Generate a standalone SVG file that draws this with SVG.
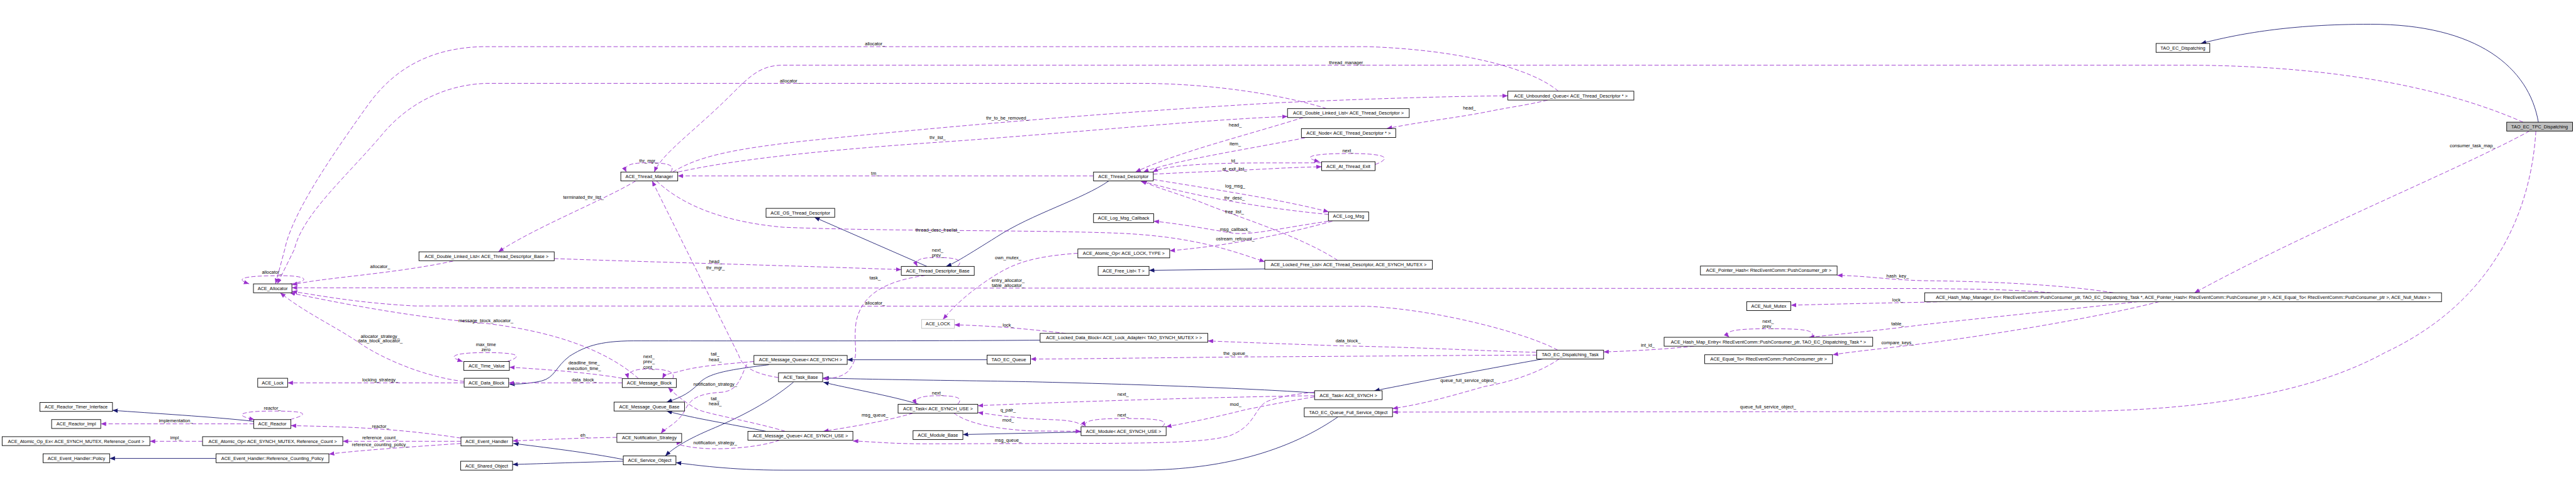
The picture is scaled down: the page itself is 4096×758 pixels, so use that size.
<svg xmlns="http://www.w3.org/2000/svg" width="4096" height="758" viewBox="0 0 4096 758">
<defs>
<style>
.n rect{fill:#fff;stroke:#000;stroke-width:1.6}
.n text,.l{font-family:'Liberation Sans',Arial,sans-serif;font-size:13px;text-anchor:middle;fill:#000}
.e{fill:none;stroke:#9a32cd;stroke-width:1.6;stroke-dasharray:12,6;marker-end:url(#ap)}
.i{fill:none;stroke:#191970;stroke-width:1.6;marker-end:url(#an)}
</style>
<marker id="ap" markerUnits="userSpaceOnUse" markerWidth="16" markerHeight="12" refX="15" refY="6" orient="auto" viewBox="0 0 16 12"><path d="M0,0 L15,6 L0,12 z" fill="#9a32cd"/></marker>
<marker id="an" markerUnits="userSpaceOnUse" markerWidth="16" markerHeight="12" refX="15" refY="6" orient="auto" viewBox="0 0 16 12"><path d="M0,0 L15,6 L0,12 z" fill="#191970"/></marker>
</defs>
<rect width="4096" height="758" fill="#fff"/>
<g transform="scale(0.566)">
<g id="connectors">
<path class="i" d="M7131,343 C7105,190 6960,68 6660,68 C6430,68 6290,95 6183,122"/>
<path class="i" d="M2581,1135 C2500,1110 2380,1090 2313,1073"/>
<path class="i" d="M3693,1103 C3500,1090 3200,1079 2900,1072 C2700,1068 2450,1066 2313,1061"/>
<path class="i" d="M2160,1024 C2030,1040 1985,1050 1960,1080 C1930,1110 1900,1120 1873,1129"/>
<path class="i" d="M2773,1010 L2380,1010"/>
<path class="i" d="M2152,1211 C2050,1190 1950,1175 1873,1154"/>
<path class="i" d="M2229,1073 C2160,1130 2080,1170 2010,1200 C1950,1225 1900,1250 1869,1280"/>
<path class="i" d="M3758,1171 C3600,1280 3400,1320 3200,1320 L2200,1320 C2050,1320 1950,1305 1899,1299"/>
<path class="i" d="M1751,1290 C1650,1270 1520,1255 1442,1245"/>
<path class="i" d="M1751,1295 C1650,1297 1520,1302 1440,1304"/>
<path class="i" d="M713,1183 C600,1170 420,1160 316,1152"/>
<path class="i" d="M607,1287 L308,1287"/>
<path class="i" d="M2922,955 C2600,958 2000,957 1780,957 C1680,957 1640,975 1600,1000 C1560,1030 1560,1060 1520,1070 C1480,1078 1460,1078 1431,1079"/>
<path class="i" d="M2604,748 L2288,610"/>
<path class="i" d="M3115,508 C3040,560 2900,600 2800,665 C2720,715 2680,740 2658,748"/>
<path class="i" d="M3553,755 L3228,759"/>
<path class="i" d="M4334,1008 C4150,1040 3950,1080 3861,1097"/>
<path class="i" d="M3037,1213 L2705,1220"/>

<path class="e" d="M7088,343 C6900,260 6600,185 6150,183 L2200,183 C2140,183 2110,210 2060,260 C1950,370 1860,430 1838,483"/>
<text class="l" x="3785" y="180">thread_manager_</text>
<path class="e" d="M1884,483 C1900,462 1870,457 1820,457 C1770,457 1750,465 1760,483"/>
<text class="l" x="1822" y="455">thr_mgr_</text>
<path class="e" d="M2187,1060 C2120,1050 2085,1030 2075,997 L1832,508"/>
<text class="l" x="2010" y="756">thr_mgr_</text>
<path class="e" d="M3072,494 L1904,494"/>
<text class="l" x="2458" y="491">tm_</text>
<path class="e" d="M1905,483 C2100,440 2400,415 2700,395 C3100,365 3400,335 3617,327"/>
<text class="l" x="2634" y="391">thr_list_</text>
<path class="e" d="M1890,483 C1960,440 2050,420 2250,397 C2700,350 3200,310 3600,288 C3900,275 4100,270 4236,269"/>
<text class="l" x="2830" y="336">thr_to_be_removed_</text>
<path class="e" d="M1786,508 C1700,560 1500,640 1400,707"/>
<text class="l" x="1639" y="558">terminated_thr_list_</text>
<path class="e" d="M1844,508 C1900,560 2000,620 2200,638 C2500,650 2900,645 3150,655 C3350,665 3450,700 3553,735"/>
<text class="l" x="2634" y="650">thread_desc_freelist_</text>
<path class="e" d="M1273,733 C1100,770 900,780 820,800"/>
<text class="l" x="1068" y="752">allocator_</text>
<path class="e" d="M815,797 C870,790 870,774 790,774 C700,774 650,780 700,797"/>
<text class="l" x="764" y="769">allocator_</text>
<path class="e" d="M4378,256 C4300,190 4100,140 3843,131 L1355,131 C1200,135 1100,200 1030,300 C930,440 820,600 800,700 L774,797"/>
<text class="l" x="2458" y="128">allocator_</text>
<path class="e" d="M3727,305 C3600,265 3400,234 3200,234 L1366,234 C1250,238 1150,290 1080,370 C980,490 850,600 827,700 L779,797"/>
<text class="l" x="2219" y="232">allocator_</text>
<path class="e" d="M5762,822 C5650,812 5500,810 5300,810 L820,808"/>
<text class="l" x="2832" y="791">entry_allocator_</text>
<text class="l" x="2832" y="805">table_allocator_</text>
<path class="e" d="M4376,983 C4300,940 4050,870 3842,860 L1166,859 C1000,850 900,830 820,818"/>
<text class="l" x="2458" y="856">allocator_</text>
<path class="e" d="M1794,1063 C1700,980 1550,930 1365,908 C1150,890 950,850 814,822"/>
<text class="l" x="1365" y="904">message_block_allocator_</text>
<path class="e" d="M1304,1071 C1200,1060 1080,1010 1013,965 C940,915 860,880 787,822"/>
<text class="l" x="1068" y="948">allocator_strategy_</text>
<text class="l" x="1068" y="962">data_block_allocator_</text>
<path class="e" d="M1748,1075 L1429,1075"/>
<text class="l" x="1641" y="1070">data_block_</text>
<path class="e" d="M1748,1062 C1650,1045 1500,1035 1431,1031"/>
<text class="l" x="1641" y="1023">deadline_time_</text>
<text class="l" x="1641" y="1038">execution_time_</text>
<path class="e" d="M1425,1015 C1470,1000 1460,990 1365,990 C1280,990 1250,1000 1300,1015"/>
<text class="l" x="1365" y="972">max_time</text>
<text class="l" x="1365" y="986">zero</text>
<path class="e" d="M1304,1075 L808,1075"/>
<text class="l" x="1068" y="1070">locking_strategy_</text>
<path class="e" d="M1890,1063 C1900,1040 1860,1036 1820,1036 C1780,1036 1760,1045 1765,1063"/>
<text class="l" x="1823" y="1006">next_</text>
<text class="l" x="1823" y="1020">prev_</text>
<text class="l" x="1823" y="1035">cont_</text>
<path class="e" d="M2118,1015 C2000,1025 1950,1030 1900,1045 C1870,1050 1865,1055 1861,1063"/>
<text class="l" x="2009" y="999">tail_</text>
<text class="l" x="2009" y="1015">head_</text>
<path class="e" d="M2098,1023 C2080,1060 2075,1095 2030,1101 C1960,1105 1940,1120 1925,1150 C1905,1190 1870,1200 1857,1217"/>
<text class="l" x="2009" y="1083">notification_strategy_</text>
<path class="e" d="M2206,1211 C2120,1185 2000,1165 1960,1150 C1925,1130 1900,1110 1877,1088"/>
<text class="l" x="2009" y="1123">tail_</text>
<text class="l" x="2009" y="1138">head_</text>
<path class="e" d="M2190,1236 C2120,1260 2000,1265 1940,1255 C1910,1250 1890,1245 1915,1242"/>
<text class="l" x="2009" y="1248">notification_strategy_</text>
<path class="e" d="M2565,1160 C2480,1185 2380,1200 2313,1211"/>
<text class="l" x="2458" y="1170">msg_queue_</text>
<path class="e" d="M2690,1135 C2710,1115 2680,1111 2635,1111 C2590,1111 2565,1118 2575,1135"/>
<text class="l" x="2634" y="1107">next_</text>
<path class="e" d="M3693,1111 C3400,1115 3000,1128 2747,1139"/>
<text class="l" x="3155" y="1111">next_</text>
<path class="e" d="M3693,1114 C3600,1130 3550,1140 3500,1150 C3420,1170 3350,1185 3276,1198"/>
<text class="l" x="3471" y="1140">mod_</text>
<path class="e" d="M3265,1198 C3290,1178 3240,1175 3155,1175 C3070,1175 3040,1182 3050,1198"/>
<text class="l" x="3155" y="1170">next_</text>
<path class="e" d="M3045,1198 C3030,1185 3010,1180 2950,1178 C2850,1175 2800,1165 2747,1158"/>
<text class="l" x="2832" y="1155">q_pair_</text>
<path class="e" d="M2680,1160 C2720,1190 2800,1205 2900,1210 L3037,1211"/>
<text class="l" x="2832" y="1184">mod_</text>
<path class="e" d="M3693,1101 C3600,1110 3560,1125 3551,1132 C3520,1160 3520,1200 3450,1225 C3383,1240 3300,1245 3000,1245 L2600,1246 C2500,1246 2450,1240 2396,1238"/>
<text class="l" x="2832" y="1240">msg_queue_</text>
<path class="e" d="M4380,1008 C4320,1050 4230,1075 4171,1085 C4100,1105 4000,1135 3912,1147"/>
<text class="l" x="4125" y="1072">queue_full_service_object_</text>
<path class="e" d="M7124,368 C7110,600 7000,850 6700,990 C6500,1100 6200,1155 5800,1155 L3912,1157"/>
<text class="l" x="4967" y="1147">queue_full_service_object_</text>
<path class="e" d="M7106,368 C6900,480 6500,640 6165,822"/>
<text class="l" x="6946" y="414">consumer_task_map_</text>
<path class="e" d="M5937,822 C5800,800 5600,790 5400,788 C5300,785 5250,775 5161,773"/>
<text class="l" x="5331" y="779">hash_key_</text>
<path class="e" d="M5460,847 C5400,849 5200,852 5031,857"/>
<text class="l" x="5331" y="847">lock_</text>
<path class="e" d="M6007,847 C5800,870 5500,900 5400,912 C5300,925 5200,935 5082,947"/>
<text class="l" x="5331" y="913">table_</text>
<path class="e" d="M6066,847 C5900,890 5600,940 5400,965 C5300,978 5220,985 5149,996"/>
<text class="l" x="5331" y="967">compare_keys_</text>
<path class="e" d="M4759,972 C4680,980 4600,985 4505,988"/>
<text class="l" x="4629" y="974">int_id_</text>
<path class="e" d="M5088,947 C5105,925 5060,923 4965,923 C4870,923 4840,930 4858,947"/>
<text class="l" x="4967" y="906">next_</text>
<text class="l" x="4967" y="920">prev_</text>
<path class="e" d="M4315,989 C4200,987 4000,975 3765,971 C3600,965 3450,960 3393,957"/>
<text class="l" x="3787" y="962">data_block_</text>
<path class="e" d="M4317,997 C4150,997 3900,1000 3500,1002 C3200,1005 3000,1008 2895,1008"/>
<text class="l" x="3471" y="996">the_queue_</text>
<path class="e" d="M2994,936 C2900,925 2800,915 2681,912"/>
<text class="l" x="2832" y="917">lock_</text>
<path class="e" d="M3028,711 C2900,720 2850,740 2800,770 C2720,820 2680,860 2649,897"/>
<text class="l" x="2832" y="728">own_mutex_</text>
<path class="e" d="M2690,748 C2710,728 2680,723 2630,723 C2585,723 2568,730 2577,748"/>
<text class="l" x="2634" y="706">next_</text>
<text class="l" x="2634" y="720">prev_</text>
<path class="e" d="M1557,726 C1800,735 2200,745 2532,757"/>
<text class="l" x="2010" y="738">head_</text>
<path class="e" d="M2600,773 C2480,790 2420,830 2405,904 C2395,980 2420,1000 2380,1045 C2360,1060 2340,1062 2311,1063"/>
<text class="l" x="2458" y="785">task_</text>
<path class="e" d="M4348,281 C4290,295 4248,300 4192,311 C4100,330 4000,340 3896,361"/>
<text class="l" x="4128" y="307">head_</text>
<path class="e" d="M3661,330 C3500,380 3300,430 3190,483"/>
<text class="l" x="3470" y="356">head_</text>
<path class="e" d="M3666,387 C3500,420 3300,450 3212,483"/>
<text class="l" x="3470" y="408">item_</text>
<path class="e" d="M3713,457 C3600,458 3500,456 3400,460 C3300,465 3260,472 3238,483"/>
<text class="l" x="3468" y="455">td_</text>
<path class="e" d="M3240,489 C3350,483 3500,478 3600,472 C3650,470 3680,469 3713,468"/>
<text class="l" x="3468" y="478">at_exit_list_</text>
<path class="e" d="M3863,462 C3920,440 3880,431 3790,431 C3690,431 3650,440 3707,454"/>
<text class="l" x="3787" y="427">next_</text>
<path class="e" d="M3240,504 C3400,530 3600,560 3733,595"/>
<text class="l" x="3470" y="527">log_msg_</text>
<path class="e" d="M3732,602 C3550,585 3350,550 3202,507"/>
<text class="l" x="3468" y="560">thr_desc_</text>
<path class="e" d="M3758,731 C3650,660 3450,600 3380,570 C3300,540 3240,525 3207,507"/>
<text class="l" x="3468" y="599">free_list_</text>
<path class="e" d="M3732,621 C3600,640 3520,660 3467,655 C3400,645 3330,630 3241,621"/>
<text class="l" x="3470" y="648">msg_callback_</text>
<path class="e" d="M3743,621 C3600,660 3450,690 3286,704"/>
<text class="l" x="3470" y="675">ostream_refcount_</text>
<path class="e" d="M1295,1230 C1100,1200 950,1198 817,1195"/>
<text class="l" x="1069" y="1202">reactor_</text>
<path class="e" d="M1295,1239 L963,1239"/>
<text class="l" x="1068" y="1233">reference_count_</text>
<path class="e" d="M1295,1245 C1150,1255 1000,1265 924,1275"/>
<text class="l" x="1068" y="1253">reference_counting_policy_</text>
<path class="e" d="M815,1178 C880,1160 850,1154 765,1154 C680,1154 650,1165 715,1178"/>
<text class="l" x="765" y="1150">reactor_</text>
<path class="e" d="M713,1190 L283,1190"/>
<text class="l" x="494" y="1186">implementation_</text>
<path class="e" d="M569,1239 L421,1239"/>
<text class="l" x="494" y="1233">impl_</text>
<path class="e" d="M1733,1228 C1600,1230 1500,1236 1440,1238"/>
<text class="l" x="1641" y="1226">eh_</text>
</g>

<g id="n1" class="n"><rect x="7042" y="343" width="185" height="25" style="fill:#bfbfbf"/><text x="7134.5" y="360">TAO_EC_TPC_Dispatching</text></g>
<g id="n2" class="n"><rect x="6057" y="122" width="151" height="25"/><text x="6132.5" y="139">TAO_EC_Dispatching</text></g>
<g id="n3" class="n"><rect x="5407" y="822" width="1452" height="25"/><text x="6133" y="839">ACE_Hash_Map_Manager_Ex&lt; RtecEventComm::PushConsumer_ptr, TAO_EC_Dispatching_Task *, ACE_Pointer_Hash&lt; RtecEventComm::PushConsumer_ptr &gt;, ACE_Equal_To&lt; RtecEventComm::PushConsumer_ptr &gt;, ACE_Null_Mutex &gt;</text></g>
<g id="n4" class="n"><rect x="4777" y="747" width="384" height="25"/><text x="4969" y="764">ACE_Pointer_Hash&lt; RtecEventComm::PushConsumer_ptr &gt;</text></g>
<g id="n5" class="n"><rect x="4907" y="847" width="124" height="25"/><text x="4969" y="864">ACE_Null_Mutex</text></g>
<g id="n6" class="n"><rect x="4675" y="947" width="586" height="25"/><text x="4968" y="964">ACE_Hash_Map_Entry&lt; RtecEventComm::PushConsumer_ptr, TAO_EC_Dispatching_Task * &gt;</text></g>
<g id="n7" class="n"><rect x="4789" y="996" width="359" height="25"/><text x="4968.5" y="1013">ACE_Equal_To&lt; RtecEventComm::PushConsumer_ptr &gt;</text></g>
<g id="n8" class="n"><rect x="4317" y="983" width="188" height="25"/><text x="4411" y="1000">TAO_EC_Dispatching_Task</text></g>
<g id="n9" class="n"><rect x="3693" y="1097" width="190" height="25"/><text x="3788" y="1114">ACE_Task&lt; ACE_SYNCH &gt;</text></g>
<g id="n10" class="n"><rect x="3664" y="1145" width="248" height="25"/><text x="3788" y="1162">TAO_EC_Queue_Full_Service_Object</text></g>
<g id="n11" class="n"><rect x="3037" y="1198" width="239" height="25"/><text x="3156.5" y="1215">ACE_Module&lt; ACE_SYNCH_USE &gt;</text></g>
<g id="n12" class="n"><rect x="2922" y="936" width="471" height="25"/><text x="3157.5" y="953">ACE_Locked_Data_Block&lt; ACE_Lock_Adapter&lt; TAO_SYNCH_MUTEX &gt; &gt;</text></g>
<g id="n13" class="n"><rect x="2773" y="997" width="122" height="25"/><text x="2834" y="1014">TAO_EC_Queue</text></g>
<g id="n14" class="n"><rect x="2523" y="1135" width="224" height="25"/><text x="2635" y="1152">ACE_Task&lt; ACE_SYNCH_USE &gt;</text></g>
<g id="n15" class="n"><rect x="2565" y="1209" width="140" height="25"/><text x="2635" y="1226">ACE_Module_Base</text></g>
<g id="n16" class="n"><rect x="2101" y="1211" width="295" height="25"/><text x="2248.5" y="1228">ACE_Message_Queue&lt; ACE_SYNCH_USE &gt;</text></g>
<g id="n17" class="n"><rect x="2187" y="1047" width="124" height="25"/><text x="2249" y="1064">ACE_Task_Base</text></g>
<g id="n18" class="n"><rect x="2118" y="998" width="262" height="25"/><text x="2249" y="1015">ACE_Message_Queue&lt; ACE_SYNCH &gt;</text></g>
<g id="n19" class="n"><rect x="2589" y="897" width="92" height="25" style="stroke:#bfbfbf"/><text x="2635" y="914">ACE_LOCK</text></g>
<g id="n20" class="n"><rect x="2532" y="748" width="205" height="25"/><text x="2634.5" y="765">ACE_Thread_Descriptor_Base</text></g>
<g id="n21" class="n"><rect x="2152" y="585" width="193" height="25"/><text x="2248.5" y="602">ACE_OS_Thread_Descriptor</text></g>
<g id="n22" class="n"><rect x="1744" y="483" width="160" height="25"/><text x="1824" y="500">ACE_Thread_Manager</text></g>
<g id="n23" class="n"><rect x="1177" y="707" width="380" height="25"/><text x="1367" y="724">ACE_Double_Linked_List&lt; ACE_Thread_Descriptor_Base &gt;</text></g>
<g id="n24" class="n"><rect x="712" y="797" width="108" height="25"/><text x="766" y="814">ACE_Allocator</text></g>
<g id="n25" class="n"><rect x="1303" y="1015" width="128" height="25"/><text x="1367" y="1032">ACE_Time_Value</text></g>
<g id="n26" class="n"><rect x="1304" y="1062" width="125" height="25"/><text x="1366.5" y="1079">ACE_Data_Block</text></g>
<g id="n27" class="n"><rect x="1748" y="1063" width="152" height="25"/><text x="1824" y="1080">ACE_Message_Block</text></g>
<g id="n28" class="n"><rect x="1725" y="1129" width="198" height="25"/><text x="1824" y="1146">ACE_Message_Queue_Base</text></g>
<g id="n29" class="n"><rect x="1733" y="1217" width="182" height="25"/><text x="1824" y="1234">ACE_Notification_Strategy</text></g>
<g id="n30" class="n"><rect x="1295" y="1227" width="145" height="25"/><text x="1367.5" y="1244">ACE_Event_Handler</text></g>
<g id="n31" class="n"><rect x="1751" y="1280" width="148" height="25"/><text x="1825" y="1297">ACE_Service_Object</text></g>
<g id="n32" class="n"><rect x="1294" y="1295" width="146" height="25"/><text x="1367" y="1312">ACE_Shared_Object</text></g>
<g id="n33" class="n"><rect x="724" y="1062" width="84" height="25"/><text x="766" y="1079">ACE_Lock</text></g>
<g id="n34" class="n"><rect x="112" y="1130" width="204" height="25"/><text x="214" y="1147">ACE_Reactor_Timer_Interface</text></g>
<g id="n35" class="n"><rect x="145" y="1178" width="138" height="25"/><text x="214" y="1195">ACE_Reactor_Impl</text></g>
<g id="n36" class="n"><rect x="713" y="1178" width="104" height="25"/><text x="765" y="1195">ACE_Reactor</text></g>
<g id="n37" class="n"><rect x="6" y="1226" width="415" height="25"/><text x="213.5" y="1243">ACE_Atomic_Op_Ex&lt; ACE_SYNCH_MUTEX, Reference_Count &gt;</text></g>
<g id="n38" class="n"><rect x="569" y="1226" width="394" height="25"/><text x="766" y="1243">ACE_Atomic_Op&lt; ACE_SYNCH_MUTEX, Reference_Count &gt;</text></g>
<g id="n39" class="n"><rect x="121" y="1274" width="187" height="25"/><text x="214.5" y="1291">ACE_Event_Handler::Policy</text></g>
<g id="n40" class="n"><rect x="607" y="1274" width="317" height="25"/><text x="765.5" y="1291">ACE_Event_Handler::Reference_Counting_Policy</text></g>
<g id="n41" class="n"><rect x="3617" y="305" width="342" height="25"/><text x="3788" y="322">ACE_Double_Linked_List&lt; ACE_Thread_Descriptor &gt;</text></g>
<g id="n42" class="n"><rect x="3656" y="361" width="265" height="25"/><text x="3788.5" y="378">ACE_Node&lt; ACE_Thread_Descriptor * &gt;</text></g>
<g id="n43" class="n"><rect x="3713" y="454" width="150" height="25"/><text x="3788" y="471">ACE_At_Thread_Exit</text></g>
<g id="n44" class="n"><rect x="3072" y="483" width="168" height="25"/><text x="3156" y="500">ACE_Thread_Descriptor</text></g>
<g id="n45" class="n"><rect x="3072" y="600" width="169" height="25"/><text x="3156.5" y="617">ACE_Log_Msg_Callback</text></g>
<g id="n46" class="n"><rect x="3732" y="595" width="113" height="25"/><text x="3788.5" y="612">ACE_Log_Msg</text></g>
<g id="n47" class="n"><rect x="3028" y="699" width="258" height="25"/><text x="3157" y="716">ACE_Atomic_Op&lt; ACE_LOCK, TYPE &gt;</text></g>
<g id="n48" class="n"><rect x="3553" y="731" width="471" height="25"/><text x="3788.5" y="748">ACE_Locked_Free_List&lt; ACE_Thread_Descriptor, ACE_SYNCH_MUTEX &gt;</text></g>
<g id="n49" class="n"><rect x="3085" y="748" width="143" height="25"/><text x="3156.5" y="765">ACE_Free_List&lt; T &gt;</text></g>
<g id="n50" class="n"><rect x="4236" y="256" width="354" height="25"/><text x="4413" y="273">ACE_Unbounded_Queue&lt; ACE_Thread_Descriptor * &gt;</text></g>
</g>
</svg>
